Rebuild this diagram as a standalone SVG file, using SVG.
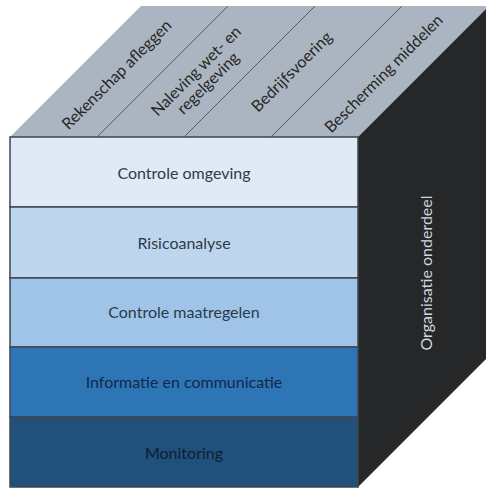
<svg xmlns="http://www.w3.org/2000/svg" width="486" height="488" viewBox="0 0 486 488">
<style>
.lbl{font-family:Lato,"Open Sans","Liberation Sans",sans-serif;font-size:16px;text-anchor:middle}
.top{fill:#262626}
.band{stroke:#3f4650;stroke-width:1.5}
.div{stroke:#555c66;stroke-width:1;fill:none}
</style>
<rect width="486" height="488" fill="#ffffff"/>
<g id="top-face">
<polygon points="10,137 358,137 489,6 141,6" fill="#abb5c1"/>
</g>
<g id="connectors">
<line class="div" x1="97" y1="137" x2="228" y2="6"/>
<line class="div" x1="184" y1="137" x2="315" y2="6"/>
<line class="div" x1="271" y1="137" x2="402" y2="6"/>
</g>
<g id="top-labels">
<text class="lbl top" transform="translate(117,75) rotate(-45)" dy="5">Rekenschap afleggen</text>
<text class="lbl top" transform="translate(202,77) rotate(-45)"><tspan x="0" dy="-3">Naleving wet- en</tspan><tspan x="0" dy="17">regelgeving</tspan></text>
<text class="lbl top" transform="translate(292,72) rotate(-45)" dy="5">Bedrijfsvoering</text>
<text class="lbl top" transform="translate(384,74) rotate(-45)" dy="5">Bescherming middelen</text>
</g>
<g id="right-face">
<polygon points="358,137 489,6 489,356 358,487" fill="#262729"/>
<text class="lbl" transform="translate(426,273) rotate(-90)" dy="6" fill="#d4d6d9">Organisatie onderdeel</text>
</g>
<g id="band-1">
<rect class="band" x="10" y="137" width="348" height="70" fill="#dfeaf6"/>
<text class="lbl" x="184" y="179" fill="#2f3a48">Controle omgeving</text>
</g>
<g id="band-2">
<rect class="band" x="10" y="207" width="348" height="71" fill="#bdd6ee"/>
<text class="lbl" x="184" y="249" fill="#2f3a48">Risicoanalyse</text>
</g>
<g id="band-3">
<rect class="band" x="10" y="278" width="348" height="69" fill="#9fc4e7"/>
<text class="lbl" x="184" y="318" fill="#2a3a4e">Controle maatregelen</text>
</g>
<g id="band-4">
<rect class="band" x="10" y="347" width="348" height="70" fill="#2e75b6"/>
<text class="lbl" x="184" y="388" fill="#10294a">Informatie en communicatie</text>
</g>
<g id="band-5">
<rect class="band" x="10" y="417" width="348" height="70" fill="#21507b"/>
<text class="lbl" x="184" y="459" fill="#0e1e33">Monitoring</text>
</g>
</svg>
